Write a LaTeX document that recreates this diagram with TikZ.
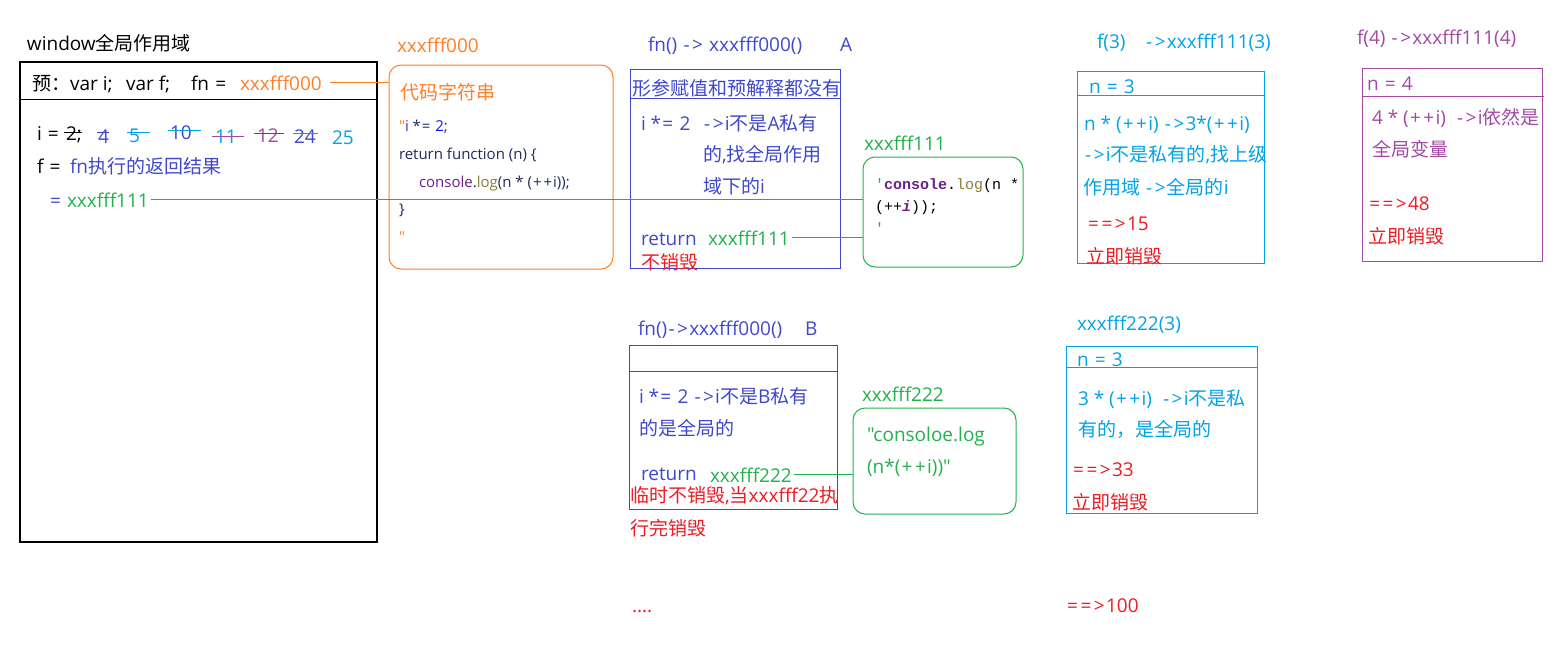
\documentclass[tikz,border=0pt]{standalone}
\usepackage{fontspec}
\setmainfont{Open Sans}[Ligatures=TeXOff]
\newfontfamily\cjkf{Noto Sans CJK SC}[Ligatures=TeXOff]
\newfontfamily\latf{Open Sans}[Ligatures=TeXOff]
\newfontfamily\monof{Liberation Mono}[Ligatures=TeXOff]
% automatic switch between Latin and CJK fonts, and wider operator glyphs
\count255="4E00
\loop \XeTeXcharclass\count255=21 \ifnum\count255<"9FFF \advance\count255 by 1 \repeat
\count255="3000
\loop \XeTeXcharclass\count255=21 \ifnum\count255<"303F \advance\count255 by 1 \repeat
\count255="FF00
\loop \XeTeXcharclass\count255=21 \ifnum\count255<"FFEF \advance\count255 by 1 \repeat
\XeTeXcharclass`\+=22 \relax
\XeTeXcharclass`\==22 \relax
\XeTeXcharclass`\>=22 \relax
\XeTeXcharclass`\-=22 \relax
\protected\def\wk{\kern0.065em\relax}
\protected\def\cjkon{\XeTeXinterchartokenstate=1\relax}
\XeTeXinterchartoks 0 21 = {\cjkf}
\XeTeXinterchartoks 4095 21 = {\cjkf}
\XeTeXinterchartoks 21 0 = {\latf}
\XeTeXinterchartoks 21 4095 = {\latf}
\XeTeXinterchartoks 0 22 = {\wk}
\XeTeXinterchartoks 22 0 = {\wk}
\XeTeXinterchartoks 4095 22 = {\wk}
\XeTeXinterchartoks 22 4095 = {\wk}
\XeTeXinterchartoks 22 22 = {\wk\wk}
\XeTeXinterchartoks 21 22 = {\latf\wk}
\XeTeXinterchartoks 22 21 = {\wk\cjkf}
\definecolor{cOrange}{HTML}{FF7F27}
\definecolor{cBlue}{HTML}{3F48CC}
\definecolor{cCyan}{HTML}{00A2E8}
\definecolor{cPurple}{HTML}{A349A4}
\definecolor{cGreen}{HTML}{22B14C}
\definecolor{cRed}{HTML}{ED1C24}
\definecolor{cNavy}{HTML}{1F2A5C}
\definecolor{cCodePurple}{HTML}{6B1F8A}
\definecolor{cOlive}{HTML}{8B7D3A}
\definecolor{cPureBlue}{HTML}{1010FF}
\tikzset{
  txt/.style={anchor=base west, inner sep=0pt, outer sep=0pt, font=\fontsize{19}{23}\selectfont\cjkon},
  codetxt/.style={anchor=base west, inner sep=0pt, outer sep=0pt, text=cNavy, font=\fontsize{15}{18}\selectfont\cjkon},
  monotxt/.style={anchor=base west, inner sep=0pt, outer sep=0pt, font=\monof\fontsize{15}{18}\selectfont},
  framebox/.style={draw, line width=1pt, anchor=north west, inner sep=0pt, outer sep=0pt},
  roundbox/.style={framebox, rounded corners=12pt},
  conn/.style={line width=1pt},
  strike/.style={line width=1pt}
}
\begin{document}
\begin{tikzpicture}[x=1pt,y=-1pt]
\useasboundingbox (0,0) rectangle (1566,648);
\fill[white] (0,0) rectangle (1566,648);

% ---------------- window global scope ----------------
\node[txt] (title) at (27,50) {window全局作用域};
\node[framebox, line width=1.3pt, minimum width=357pt, minimum height=480pt] (win) at (20,62) {};
\draw[line width=1pt] (win.west |- 0,99) -- (win.east |- 0,99);
\node[txt] (pre) at (32,90) {预：var i;};
\node[txt] (pref) at (126,90) {var f;};
\node[txt] (prefn) at (191,90) {fn =};
\node[txt, text=cOrange] (wfn0) at (240,90) {xxxfff000};

\node[txt] (ieq) at (37,140) {i =};
\node[txt] (n2) at (66,140) {2;};
\node[txt, text=cBlue] (n4) at (98,143) {4};
\node[txt, text=cCyan] (n5) at (129,142) {5};
\node[txt, text=cBlue] (n10) at (170,139) {10};
\node[txt, text=cCyan] (n11) at (215,143) {11};
\node[txt, text=cPurple] (n12) at (257,142) {12};
\node[txt, text=cBlue] (n24) at (294,143) {24};
\node[txt, text=cCyan] (n25) at (332,144) {25};
\draw[strike, black] ([xshift=-2pt,yshift=8pt]n2.base west) -- ([xshift=0pt,yshift=8pt]n2.base east);
\draw[strike, cBlue] ([xshift=-1pt,yshift=11pt]n4.base west) -- ([xshift=0pt,yshift=11pt]n4.base east);
\draw[strike, cCyan] ([xshift=-2pt,yshift=10pt]n5.base west) -- ([xshift=10pt,yshift=10pt]n5.base east);
\draw[strike, cCyan] ([xshift=-2pt,yshift=9pt]n10.base west) -- ([xshift=9pt,yshift=9pt]n10.base east);
\draw[strike, cPurple] ([xshift=-3pt,yshift=7pt]n11.base west) -- ([xshift=7pt,yshift=7pt]n11.base east);
\draw[strike, cBlue] ([xshift=-3pt,yshift=9pt]n12.base west) -- ([xshift=5pt,yshift=9pt]n12.base east);
\draw[strike, cCyan] ([xshift=-1pt,yshift=10pt]n24.base west) -- ([xshift=2pt,yshift=10pt]n24.base east);

\node[txt] (feq) at (37,173) {f =};
\node[txt, text=cBlue] (fres) at (70,173) {fn执行的返回结果};
\node[txt, text=cBlue] (eq2) at (49,207) {=};
\node[txt, text=cGreen] (wf111) at (67,207) {xxxfff111};

% ---------------- code string xxxfff000 ----------------
\node[txt, text=cOrange] (lab000) at (397,52) {xxxfff000};
\node[roundbox, draw=cOrange, minimum width=224pt, minimum height=204pt] (code) at (389,65) {};
\node[txt, text=cOrange] (codetitle) at (400,99) {代码字符串};
\node[codetxt] (cl1) at (399,131) {{\color{cOrange}"}{\color{cCodePurple}i} *= {\color{cPureBlue}2};};
\node[codetxt] (cl2) at (399,159) {return function (n) \{};
\node[codetxt] (cl3) at (419,187) {{\color{cCodePurple}console}.{\color{cOlive}log}(n * (++i));};
\node[codetxt] (cl4) at (399,214) {\}};
\node[codetxt, text=cOrange] (cl5) at (399,242) {"};

% ---------------- A ----------------
\node[txt, text=cBlue] (labA) at (648,51) {fn() -> xxxfff000()};
\node[txt, text=cBlue] (labAA) at (840,51) {A};
\node[framebox, draw=cBlue, minimum width=210pt, minimum height=199pt] (boxA) at (630,69) {};
\draw[line width=1pt, cBlue] (boxA.west |- 0,98) -- (boxA.east |- 0,98);
\node[txt, text=cBlue] (ahead) at (632,95) {形参赋值和预解释都没有};
\node[txt, text=cBlue] (a1) at (641,130) {i *= 2};
\node[txt, text=cBlue] (a2) at (703,130) {->i不是A私有};
\node[txt, text=cBlue] (a3) at (703,161) {的,找全局作用};
\node[txt, text=cBlue] (a4) at (703,193) {域下的i};
\node[txt, text=cBlue] (aret) at (641,245) {return};
\node[txt, text=cGreen] (af111) at (708,245) {xxxfff111};
\node[txt, text=cRed] (akeep) at (641,269) {不销毁};

% ---------------- xxxfff111 ----------------
\node[txt, text=cGreen] (lab111) at (864,150) {xxxfff111};
\node[roundbox, draw=cGreen, minimum width=160pt, minimum height=110pt] (b111) at (863,157) {};
\node[monotxt] (m1) at (875,189) {{\color{cCyan}'}{\color{cCodePurple}\bfseries console}.{\color{cOlive}log}(n *};
\node[monotxt] (m2) at (875,211) {(++{\color{cCodePurple}\bfseries\itshape i}));};
\node[monotxt, text=cCyan] (m3) at (875,233) {'};

% ---------------- f(3) ----------------
\node[txt, text=cCyan] (labf3) at (1097,48) {f(3)};
\node[txt, text=cCyan] (labf3b) at (1145,48) {->xxxfff111(3)};
\node[framebox, draw=cCyan, minimum width=187pt, minimum height=192pt] (boxF3) at (1077,71) {};
\draw[line width=1pt, cCyan] (boxF3.west |- 0,95) -- (boxF3.east |- 0,95);
\node[txt, text=cCyan] (f3n) at (1089,93) {n = 3};
\node[txt, text=cCyan] (f3a) at (1084,130) {n * (++i) ->3*(++i)};
\node[txt, text=cCyan] (f3b) at (1084,161) {->i不是私有的,找上级};
\node[txt, text=cCyan] (f3c) at (1083,194) {作用域 ->全局的i};
\node[txt, text=cRed] (f3r) at (1087,230) {==>15};
\node[txt, text=cRed] (f3d) at (1086,263) {立即销毁};

% ---------------- f(4) ----------------
\node[txt, text=cPurple] (labf4) at (1357,44) {f(4) ->xxxfff111(4)};
\node[framebox, draw=cPurple, minimum width=180pt, minimum height=193pt] (boxF4) at (1362,68) {};
\draw[line width=1pt, cPurple] (boxF4.west |- 0,96) -- ([xshift=2pt]boxF4.east |- 0,96);
\node[txt, text=cPurple] (f4n) at (1367,90) {n = 4};
\node[txt, text=cPurple] (f4a) at (1372,124) {4 * (++i)~ ->i依然是};
\node[txt, text=cPurple] (f4b) at (1372,156) {全局变量};
\node[txt, text=cRed] (f4r) at (1368,210) {==>48};
\node[txt, text=cRed] (f4d) at (1368,243) {立即销毁};

% ---------------- B ----------------
\node[txt, text=cBlue] (labB) at (638,335) {fn()->xxxfff000()};
\node[txt, text=cBlue] (labBB) at (805,335) {B};
\node[framebox, draw=cBlue, minimum width=208pt, minimum height=164pt] (boxB) at (629,345) {};
\draw[line width=1pt, cBlue] (boxB.west |- 0,371) -- (boxB.east |- 0,371);
\node[txt, text=cBlue] (b1) at (639,403) {i *= 2 ->i不是B私有};
\node[txt, text=cBlue] (b2) at (639,435) {的是全局的};
\node[txt, text=cBlue] (bret) at (641,480) {return};
\node[txt, text=cGreen] (bf222) at (710,482) {xxxfff222};
\node[txt, text=cRed] (bkeep) at (630,502) {临时不销毁,当xxxfff22执};
\node[txt, text=cRed] (bkeep2) at (630,535) {行完销毁};

% ---------------- xxxfff222 ----------------
\node[txt, text=cGreen] (lab222) at (862,401) {xxxfff222};
\node[roundbox, draw=cGreen, minimum width=163pt, minimum height=106pt] (b222) at (853,408) {};
\node[txt, text=cGreen] (g1) at (867,441) {"consoloe.log};
\node[txt, text=cGreen] (g2) at (867,473) {(n*(++i))"};

% ---------------- xxxfff222(3) ----------------
\node[txt, text=cCyan] (lab2223) at (1077,330) {xxxfff222(3)};
\node[framebox, draw=cCyan, minimum width=191pt, minimum height=167pt] (boxG3) at (1066,346) {};
\draw[line width=1pt, cCyan] (boxG3.west |- 0,367) -- (boxG3.east |- 0,367);
\node[txt, text=cCyan] (g3n) at (1077,366) {n = 3};
\node[txt, text=cCyan] (g3a) at (1078,405) {3 * (++i)~ ->i不是私};
\node[txt, text=cCyan] (g3b) at (1078,436) {有的，是全局的};
\node[txt, text=cRed] (g3r) at (1072,476) {==>33};
\node[txt, text=cRed] (g3d) at (1072,509) {立即销毁};

% ---------------- bottom ----------------
\node[txt, text=cRed] (dots) at (632,612) {....};
\node[txt, text=cRed] (total) at (1066,612) {==>100};

% ---------------- connectors ----------------
\draw[conn, cOrange] ([xshift=8pt]wfn0.east) -- (wfn0.east -| code.west);
\draw[conn, cGreen] ([xshift=2pt]wf111.east) -- (wf111.east -| b111.west);
\draw[conn, cGreen] ([xshift=2pt]af111.east) -- (af111.east -| b111.west);
\draw[conn, cGreen] ([xshift=2pt]bf222.east) -- (bf222.east -| b222.west);
\end{tikzpicture}
\end{document}
